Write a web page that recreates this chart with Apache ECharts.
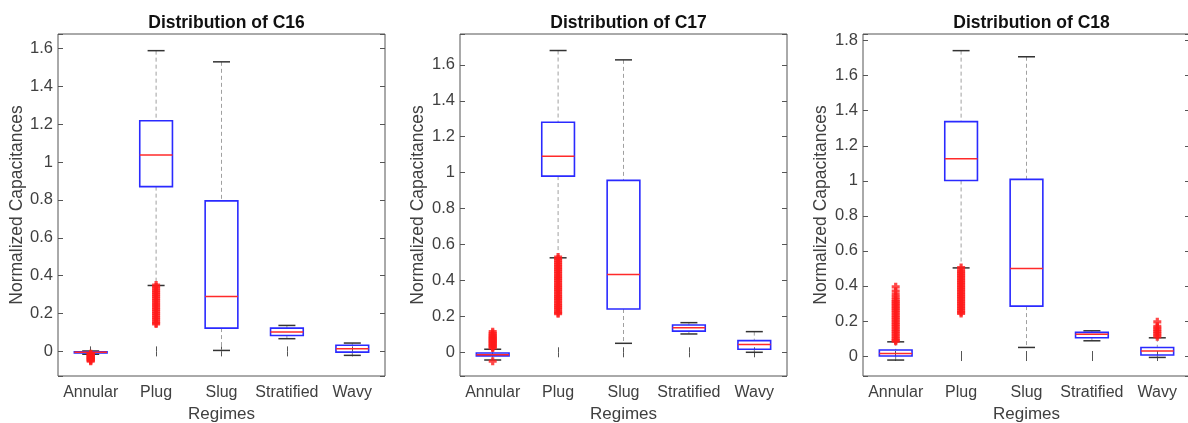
<!DOCTYPE html>
<html>
<head>
<meta charset="utf-8">
<script src="https://cdn.jsdelivr.net/npm/echarts@6/dist/echarts.min.js"></script>
<style>
  html, body { margin: 0; padding: 0; background: #fff; }
  #chart { width: 1188px; height: 423px; }
</style>
</head>
<body>
<div id="chart"></div>
<script>
const regimes = ['Annular', 'Plug', 'Slug', 'Stratified', 'Wavy'];
const titles = ['Distribution of C16', 'Distribution of C17', 'Distribution of C18'];

// each row: [lower whisker, Q1, median, Q3, upper whisker]
const c16Stats = [
  [-0.015, -0.008, -0.005, -0.002, 0.002],
  [0.348, 0.870, 1.037, 1.218, 1.588],
  [0.005, 0.123, 0.290, 0.795, 1.529],
  [0.067, 0.084, 0.102, 0.123, 0.137],
  [-0.021, -0.004, 0.014, 0.032, 0.044]
];
const c17Stats = [
  [-0.043, -0.020, -0.013, -0.004, 0.017],
  [0.526, 0.981, 1.092, 1.281, 1.680],
  [0.050, 0.241, 0.433, 0.957, 1.628],
  [0.102, 0.118, 0.137, 0.152, 0.165],
  [0.000, 0.017, 0.044, 0.065, 0.115]
];
const c18Stats = [
  [-0.023, 0.000, 0.015, 0.034, 0.081],
  [0.503, 1.002, 1.126, 1.338, 1.743],
  [0.049, 0.285, 0.499, 1.008, 1.708],
  [0.087, 0.104, 0.124, 0.135, 0.144],
  [-0.008, 0.006, 0.028, 0.049, 0.104]
];

// outliers per regime (estimated from the dense red marks)
const c16Outliers = [
  [-0.012, -0.016, -0.02, -0.024, -0.028, -0.032, -0.036, -0.04, -0.044, -0.048, -0.052],
  [0.35, 0.34, 0.33, 0.32, 0.31, 0.30, 0.29, 0.28, 0.27, 0.26, 0.25, 0.24, 0.23, 0.22, 0.21, 0.20, 0.19, 0.18, 0.17, 0.16, 0.15, 0.145],
  [], [], []
];
const c17Outliers = [
  [-0.05, 0.024, 0.03, 0.036, 0.042, 0.048, 0.054, 0.06, 0.066, 0.072, 0.078, 0.084, 0.09, 0.097, 0.105, 0.115],
  [0.53, 0.52, 0.51, 0.50, 0.49, 0.48, 0.47, 0.46, 0.45, 0.44, 0.43, 0.42, 0.41, 0.40, 0.39, 0.38, 0.37, 0.36, 0.35, 0.34, 0.33, 0.32, 0.31, 0.30, 0.29, 0.28, 0.27, 0.26, 0.25, 0.24, 0.23, 0.22, 0.215],
  [], [], []
];
const c18Outliers = [
  [0.085, 0.09, 0.10, 0.11, 0.12, 0.13, 0.14, 0.15, 0.16, 0.17, 0.18, 0.19, 0.20, 0.21, 0.22, 0.23, 0.24, 0.25, 0.26, 0.27, 0.28, 0.29, 0.30, 0.31, 0.32, 0.335, 0.35, 0.37, 0.395],
  [0.505, 0.49, 0.48, 0.47, 0.46, 0.45, 0.44, 0.43, 0.42, 0.41, 0.40, 0.39, 0.38, 0.37, 0.36, 0.35, 0.34, 0.33, 0.32, 0.31, 0.30, 0.29, 0.28, 0.27, 0.26, 0.25, 0.243],
  [], [],
  [0.11, 0.12, 0.13, 0.14, 0.15, 0.16, 0.17, 0.195]
];

const allStats = [c16Stats, c17Stats, c18Stats];
const allOutliers = [c16Outliers, c17Outliers, c18Outliers];
const yRanges = [[-0.13, 1.676], [-0.132, 1.772], [-0.114, 1.838]];
const gridLefts = [58, 460, 863];
const nameGaps = [31, 33, 33];
const gridTop = 34, gridHeight = 342, gridWidth = 327;

const FONT = '"Liberation Sans", Arial, sans-serif';
const TEXT = '#404040';
const AXIS = '#555';
const PLUS = 'path://M3,0H7V3H10V7H7V10H3V7H0V3H3Z';

function tickLabel(v) {
  const k = v / 0.2;
  if (Math.abs(k - Math.round(k)) > 1e-6) return '';
  return String(+v.toFixed(1));
}

function renderBox(params, api) {
  const x = api.value(0);
  const lo = api.coord([x, api.value(1)]);
  const q1 = api.coord([x, api.value(2)]);
  const md = api.coord([x, api.value(3)]);
  const q3 = api.coord([x, api.value(4)]);
  const hi = api.coord([x, api.value(5)]);
  const band = api.size([1, 0])[0];
  const bw = band * 0.5, cw = band * 0.26;
  const cx = lo[0];
  const dash = { stroke: '#a0a0a0', lineWidth: 1, lineDash: [4, 3] };
  const cap = { stroke: '#333', lineWidth: 1.5 };
  return {
    type: 'group',
    children: [
      { type: 'line', shape: { x1: cx, y1: hi[1], x2: cx, y2: q3[1] }, style: dash },
      { type: 'line', shape: { x1: cx, y1: q1[1], x2: cx, y2: lo[1] }, style: dash },
      { type: 'line', shape: { x1: cx - cw / 2, y1: hi[1], x2: cx + cw / 2, y2: hi[1] }, style: cap },
      { type: 'line', shape: { x1: cx - cw / 2, y1: lo[1], x2: cx + cw / 2, y2: lo[1] }, style: cap },
      { type: 'rect', shape: { x: cx - bw / 2, y: q3[1], width: bw, height: q1[1] - q3[1] },
        style: { fill: 'none', stroke: '#2a2aff', lineWidth: 1.6 } },
      { type: 'line', shape: { x1: cx - bw / 2, y1: md[1], x2: cx + bw / 2, y2: md[1] },
        style: { stroke: '#ff2a2a', lineWidth: 1.5 } }
    ]
  };
}

const option = {
  animation: false,
  backgroundColor: '#fff',
  title: [], grid: [], xAxis: [], yAxis: [], series: []
};

for (let p = 0; p < 3; p++) {
  const left = gridLefts[p];
  option.title.push({
    text: titles[p], left: left + gridWidth / 2, top: 9, textAlign: 'center',
    textStyle: { fontFamily: FONT, fontSize: 17.5, fontWeight: 'bold', color: '#111' }
  });
  option.grid.push({
    left: left, top: gridTop, width: gridWidth, height: gridHeight,
    outerBoundsMode: 'none', containLabel: false,
    show: true, borderColor: AXIS, borderWidth: 1, backgroundColor: 'transparent'
  });
  const yBase = {
    gridIndex: p, type: 'value', min: yRanges[p][0], max: yRanges[p][1], splitNumber: 9,
    axisLine: { show: false }, splitLine: { show: false },
    axisTick: { show: true, inside: true, length: 5, lineStyle: { color: AXIS } }
  };
  option.yAxis.push(Object.assign({}, yBase, {
    position: 'left',
    name: 'Normalized Capacitances', nameLocation: 'middle', nameRotate: 90, nameGap: nameGaps[p],
    nameTextStyle: { fontFamily: FONT, fontSize: 17.5, color: TEXT },
    axisLabel: { formatter: tickLabel, fontFamily: FONT, fontSize: 16.5, color: TEXT, margin: 5 }
  }));
  option.yAxis.push(Object.assign({}, yBase, { position: 'right', axisLabel: { show: false } }));
  const xBase = {
    gridIndex: p, type: 'category', data: regimes, boundaryGap: true,
    axisLine: { show: false }, splitLine: { show: false },
    axisTick: { show: true, inside: true, length: 5, alignWithLabel: true, lineStyle: { color: AXIS } }
  };
  option.xAxis.push(Object.assign({}, xBase, {
    position: 'bottom',
    name: 'Regimes', nameLocation: 'middle', nameGap: 29,
    nameTextStyle: { fontFamily: FONT, fontSize: 17, color: TEXT },
    axisLabel: { fontFamily: FONT, fontSize: 16, color: TEXT, margin: 9, interval: 0 }
  }));
  option.xAxis.push(Object.assign({}, xBase, { position: 'top', axisLabel: { show: false } }));

  const boxData = allStats[p].map((s, i) => [i].concat(s));
  option.series.push({
    type: 'custom', xAxisIndex: 2 * p, yAxisIndex: 2 * p,
    renderItem: renderBox, data: boxData, z: 2
  });
  const outData = [];
  allOutliers[p].forEach((vals, i) => vals.forEach(v => outData.push([i, v])));
  option.series.push({
    type: 'scatter', xAxisIndex: 2 * p, yAxisIndex: 2 * p,
    symbol: PLUS, symbolSize: 8, itemStyle: { color: '#ff1a1a' },
    data: outData, z: 3
  });
}

const chart = echarts.init(document.getElementById('chart'));
chart.setOption(option);
</script>
</body>
</html>
